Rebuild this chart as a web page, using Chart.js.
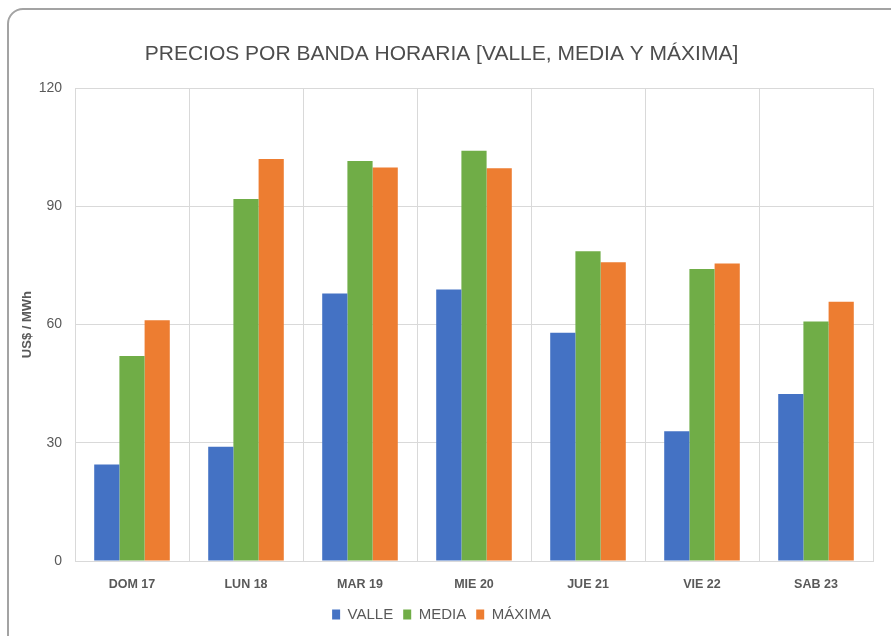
<!DOCTYPE html>
<html>
<head>
<meta charset="utf-8">
<script src="https://cdn.jsdelivr.net/npm/chart.js@4"></script>
<style>
  html, body { margin: 0; padding: 0; background: #ffffff; overflow: hidden; width: 891px; height: 636px; }
  #wrap { position: relative; width: 891px; height: 636px; }
  #frame { position: absolute; left: 7px; top: 8px; width: 900px; height: 650px; border: 2.5px solid #a3a3a3; border-radius: 16px; box-sizing: border-box; pointer-events: none; }
  canvas { position: absolute; left: 0; top: 0; }
</style>
</head>
<body>
<div id="wrap">
  <canvas id="c" width="891" height="636"></canvas>
  <div id="frame"></div>
</div>
<script>
const categories = ["DOM 17", "LUN 18", "MAR 19", "MIE 20", "JUE 21", "VIE 22", "SAB 23"];
const valle  = [24.5, 29.0, 67.9, 68.9, 57.9, 32.9, 42.4];
const media  = [52.0, 91.9, 101.5, 104.1, 78.6, 74.1, 60.8];
const maxima = [61.1, 102.0, 99.9, 99.7, 75.8, 75.5, 65.8];
const seriesNames = ["VALLE", "MEDIA", "MÁXIMA"];
const yTicks = [0, 30, 60, 90, 120];
const titleText = "PRECIOS POR BANDA HORARIA [VALLE, MEDIA Y MÁXIMA]";
const yTitle = "US$ / MWh";

const NARROW = "'Liberation Sans Narrow', 'Arial Narrow', 'Liberation Sans', sans-serif";
const TXT = "#595959";

new Chart(document.getElementById("c"), {
  type: "bar",
  data: {
    labels: categories,
    datasets: [
      { label: seriesNames[0], data: valle,  backgroundColor: "#4472C4" },
      { label: seriesNames[1], data: media,  backgroundColor: "#70AD47" },
      { label: seriesNames[2], data: maxima, backgroundColor: "#ED7D31" }
    ]
  },
  options: {
    responsive: false,
    animation: false,
    devicePixelRatio: 1,
    datasets: { bar: { barPercentage: 1.0, categoryPercentage: 0.663 } },
    layout: { padding: { left: 10, right: 18, top: 0, bottom: 4 } },
    plugins: {
      tooltip: { enabled: false },
      title: {
        display: true,
        text: titleText,
        color: "#4d4d4d",
        font: { family: NARROW, size: 21, weight: "normal" },
        padding: { top: 42, bottom: 21 }
      },
      legend: {
        position: "bottom",
        labels: {
          color: TXT,
          font: { family: NARROW, size: 15 },
          boxWidth: 8,
          boxHeight: 10,
          padding: 10
        }
      }
    },
    scales: {
      x: {
        grid: { display: true, offset: true, color: "#d9d9d9", drawTicks: false },
        border: { color: "#d9d9d9" },
        ticks: { color: TXT, font: { family: NARROW, size: 12.5, weight: "bold" }, padding: 16, maxRotation: 0 },
        afterFit: s => { s.height = 36; }
      },
      y: {
        min: 0, max: 120,
        afterBuildTicks: s => { s.ticks = yTicks.map(v => ({ value: v })); },
        grid: { color: "#d9d9d9", drawTicks: false },
        border: { display: false },
        ticks: { color: TXT, font: { family: NARROW, size: 14 }, padding: 13 },
        title: { display: true, text: yTitle, color: TXT, font: { family: NARROW, size: 13, weight: "bold" }, padding: { top: 10, bottom: 0 } },
        afterFit: s => { s.width = 65; }
      }
    }
  }
});
</script>
</body>
</html>
